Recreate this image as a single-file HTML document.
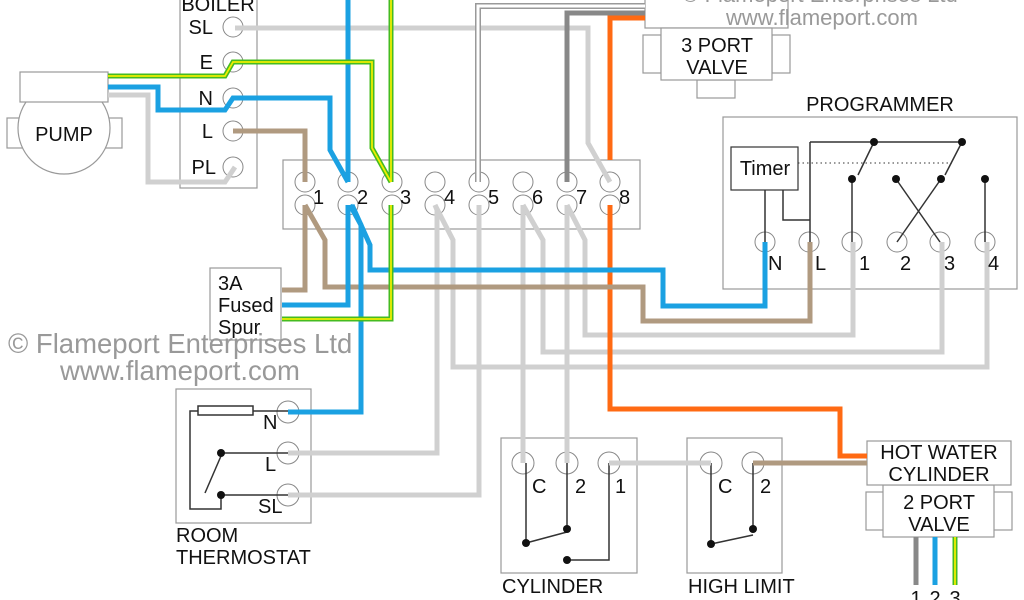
<!DOCTYPE html>
<html><head><meta charset="utf-8"><style>
html,body{margin:0;padding:0;background:#fff;}
svg{display:block;font-family:"Liberation Sans",Arial,sans-serif;}
</style></head><body>
<svg width="1024" height="600" viewBox="0 0 1024 600" xmlns="http://www.w3.org/2000/svg">
<g fill="#fff" stroke="#999" stroke-width="1.2">
<rect x="180" y="-5" width="77" height="193"/>
<rect x="7" y="118" width="115" height="30"/>
<circle cx="64" cy="128" r="46"/>
<rect x="20" y="72" width="88" height="30"/>
<rect x="283" y="160" width="357" height="69"/>
<rect x="645" y="-5" width="143" height="33"/>
<rect x="643" y="35" width="18" height="38"/>
<rect x="772" y="35" width="18" height="38"/>
<rect x="697" y="80" width="38" height="18"/>
<rect x="661" y="28" width="111" height="52"/>
<rect x="723" y="117" width="294" height="172"/>
<rect x="731" y="147" width="67" height="43" stroke="#333"/>
<rect x="210" y="268" width="71" height="72"/>
<rect x="176" y="389" width="135" height="134"/>
<rect x="501" y="438" width="136" height="135"/>
<rect x="687" y="438" width="95" height="135"/>
<rect x="866" y="492" width="146" height="38"/>
<rect x="883" y="485" width="111" height="52"/>
<rect x="867" y="441" width="144" height="44"/>
</g>
<g fill="#fff" stroke="#888" stroke-width="1">
<circle cx="233" cy="27" r="10"/><circle cx="233" cy="62" r="10"/><circle cx="233" cy="98" r="10"/><circle cx="233" cy="131" r="10"/><circle cx="233" cy="167" r="10"/>
<circle cx="305" cy="182" r="10"/><circle cx="305" cy="205" r="10"/>
<circle cx="348" cy="182" r="10"/><circle cx="348" cy="205" r="10"/>
<circle cx="392" cy="182" r="10"/><circle cx="392" cy="205" r="10"/>
<circle cx="435" cy="182" r="10"/><circle cx="435" cy="205" r="10"/>
<circle cx="479" cy="182" r="10"/><circle cx="479" cy="205" r="10"/>
<circle cx="523" cy="182" r="10"/><circle cx="523" cy="205" r="10"/>
<circle cx="567" cy="182" r="10"/><circle cx="567" cy="205" r="10"/>
<circle cx="610" cy="182" r="10"/><circle cx="610" cy="205" r="10"/>
<circle cx="765" cy="242" r="10"/><circle cx="809" cy="242" r="10"/><circle cx="852" cy="242" r="10"/><circle cx="897" cy="242" r="10"/><circle cx="940" cy="242" r="10"/><circle cx="985" cy="242" r="10"/>
<circle cx="288" cy="412" r="11"/><circle cx="288" cy="453" r="11"/><circle cx="288" cy="495" r="11"/>
<circle cx="523" cy="463" r="11"/><circle cx="567" cy="463" r="11"/><circle cx="609" cy="463" r="11"/>
<circle cx="711" cy="463" r="11"/><circle cx="753" cy="463" r="11"/>
</g>
<g fill="none" stroke="#333" stroke-width="1.5">
<line x1="810" y1="142" x2="962" y2="142"/>
<line x1="810" y1="142" x2="810" y2="242"/>
<polyline points="783,190 783,220 810,220"/>
<line x1="765" y1="190" x2="765" y2="242"/>
<line x1="874" y1="142" x2="858" y2="175"/>
<line x1="962" y1="142" x2="945" y2="175"/>
<line x1="852" y1="179" x2="852" y2="242"/>
<line x1="985" y1="179" x2="985" y2="242"/>
<line x1="896" y1="179" x2="940" y2="242"/>
<line x1="941" y1="179" x2="897" y2="242"/>
<line x1="798" y1="163" x2="952" y2="163" stroke-dasharray="1.5,3" stroke-width="1"/>
<rect x="198" y="406" width="55" height="9" fill="#fff"/>
<polyline points="198,411 190,411 190,509 221,509 221,495"/>
<line x1="253" y1="411" x2="288" y2="411"/>
<line x1="221" y1="453" x2="288" y2="453"/>
<line x1="221" y1="495" x2="288" y2="495"/>
<line x1="221" y1="456" x2="205" y2="493"/>
<polyline points="526,463 526,543"/><line x1="567" y1="463" x2="567" y2="528"/>
<line x1="526" y1="543" x2="567" y2="532"/>
<polyline points="609,463 609,560 567,560"/>
<line x1="711" y1="463" x2="711" y2="544"/><line x1="753" y1="463" x2="753" y2="529"/>
<line x1="711" y1="544" x2="753" y2="535"/>
</g>
<g fill="#111">
<circle cx="874" cy="142" r="4"/><circle cx="962" cy="142" r="4"/>
<circle cx="852" cy="179" r="4"/><circle cx="896" cy="179" r="4"/><circle cx="941" cy="179" r="4"/><circle cx="985" cy="179" r="4"/>
<circle cx="221" cy="453" r="4"/><circle cx="221" cy="495" r="4"/>
<circle cx="526" cy="543" r="4"/><circle cx="567" cy="529" r="4"/><circle cx="567" cy="560" r="4"/>
<circle cx="711" cy="544" r="4"/><circle cx="753" cy="529" r="4"/>
</g>
<g fill="none" stroke-width="5" stroke-linejoin="miter">
<g stroke="#d0d0d0">
<polyline points="235,28 588,28 588,143 610,182"/>
<polyline points="108,95 148,95 148,182 225,182 235,167"/>
<polyline points="435,205 437,210 437,453 288,453"/>
<polyline points="435,205 453,240 453,367 987,367 987,242"/>
<polyline points="479,205 479,495 288,495"/>
<polyline points="523,205 523,463"/>
<polyline points="523,205 543,240 543,352 942,352 942,242"/>
<polyline points="567,205 567,463"/>
<polyline points="567,205 585,240 585,335 853,335 853,242"/>
<polyline points="609,463 711,463"/>
</g>
<polyline points="478,182 478,6 645,6" stroke="#999" stroke-width="6"/>
<polyline points="478,182 478,6 645,6" stroke="#fff" stroke-width="3"/>
<polyline points="567,182 567,13 645,13" stroke="#888"/>
<polyline points="610,160 610,18 645,18" stroke="#ff6a13"/>
<polyline points="610,205 610,409 840,409 840,456 867,456" stroke="#ff6a13"/>
<g stroke="#b09a80">
<polyline points="233,131 305,131 305,182"/>
<polyline points="305,205 305,290 282,290"/>
<polyline points="305,205 325,240 325,287 643,287 643,321 810,321 810,242"/>
<polyline points="753,463 867,463"/>
</g>
<g stroke="#1ba1e2">
<polyline points="348,-5 348,182"/>
<polyline points="108,87 158,87 158,110 225,110 233,98 330,98 330,150 348,182"/>
<polyline points="348,205 348,305 282,305"/>
<polyline points="350,205 361,225 361,412 288,412"/>
<polyline points="352,205 370,245 370,270 663,270 663,306 765,306 765,242"/>
<line x1="935" y1="537" x2="935" y2="585"/>
</g>
<line x1="916" y1="537" x2="916" y2="585" stroke="#888"/>
<g stroke="#44bb22">
<polyline points="391,-5 391,182"/>
<polyline points="108,76 225,76 233,62 372,62 372,148 391,182"/>
<polyline points="391,205 391,319 282,319"/>
<line x1="955" y1="537" x2="955" y2="585"/>
</g>
<g stroke="#eeee00" stroke-width="1.8">
<polyline points="391,-5 391,182"/>
<polyline points="108,76 225,76 233,62 372,62 372,148 391,182"/>
<polyline points="391,205 391,319 282,319"/>
<line x1="955" y1="537" x2="955" y2="585"/>
</g>
</g>
<g fill="#111" font-size="20">
<text x="218" y="11" text-anchor="middle">BOILER</text>
<text x="213" y="34" text-anchor="end">SL</text>
<text x="213" y="69" text-anchor="end">E</text>
<text x="213" y="105" text-anchor="end">N</text>
<text x="213" y="138" text-anchor="end">L</text>
<text x="216" y="174" text-anchor="end">PL</text>
<text x="64" y="141" text-anchor="middle">PUMP</text>
<text x="313" y="204">1</text><text x="357" y="204">2</text><text x="400" y="204">3</text><text x="444" y="204">4</text>
<text x="488" y="204">5</text><text x="532" y="204">6</text><text x="576" y="204">7</text><text x="619" y="204">8</text>
<text x="717" y="52" text-anchor="middle">3 PORT</text>
<text x="717" y="74" text-anchor="middle">VALVE</text>
<text x="880" y="111" text-anchor="middle">PROGRAMMER</text>
<text x="765" y="175" text-anchor="middle">Timer</text>
<text x="768" y="270">N</text><text x="815" y="270">L</text><text x="859" y="270">1</text><text x="900" y="270">2</text><text x="944" y="270">3</text><text x="988" y="270">4</text>
<text x="218" y="290">3A</text><text x="218" y="312">Fused</text><text x="218" y="334">Spur</text>
<text x="263" y="429">N</text><text x="265" y="471">L</text><text x="258" y="513">SL</text>
<text x="176" y="542">ROOM</text><text x="176" y="564">THERMOSTAT</text>
<text x="532" y="493">C</text><text x="575" y="493">2</text><text x="615" y="493">1</text>
<text x="718" y="493">C</text><text x="760" y="493">2</text>
<text x="502" y="593">CYLINDER</text><text x="688" y="593">HIGH LIMIT</text>
<text x="939" y="459" text-anchor="middle">HOT WATER</text>
<text x="939" y="481" text-anchor="middle">CYLINDER</text>
<text x="939" y="509" text-anchor="middle">2 PORT</text>
<text x="939" y="531" text-anchor="middle">VALVE</text>
<text x="916" y="605" text-anchor="middle">1</text><text x="935" y="605" text-anchor="middle">2</text><text x="955" y="605" text-anchor="middle">3</text>
</g>
<g fill="#999">
<text x="820" y="2" text-anchor="middle" font-size="22">© Flameport Enterprises Ltd</text>
<text x="822" y="25" text-anchor="middle" font-size="22">www.flameport.com</text>
<text x="8" y="353" font-size="27.5">© Flameport Enterprises Ltd</text>
<text x="60" y="380" font-size="27.5">www.flameport.com</text>
</g>
</svg>
</body></html>
